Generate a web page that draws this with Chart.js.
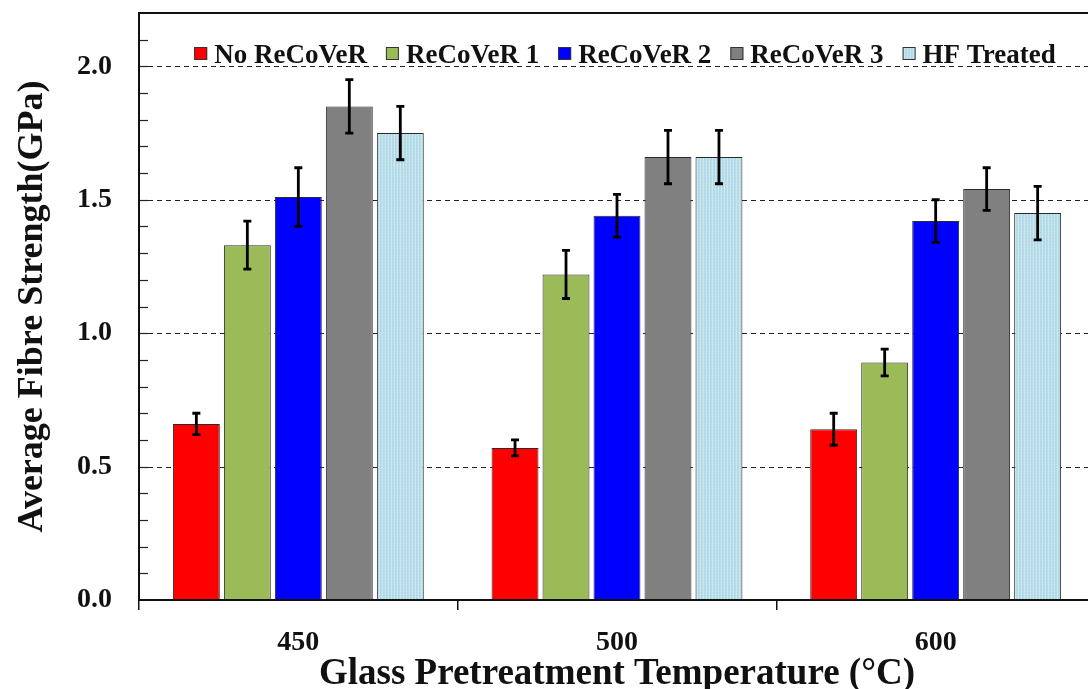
<!DOCTYPE html>
<html>
<head>
<meta charset="utf-8">
<script src="https://cdn.jsdelivr.net/npm/chart.js@4"></script>
<style>
  html, body { margin: 0; padding: 0; background: #fff; overflow: hidden; }
  #wrap { width: 1100px; height: 689px; }
</style>
</head>
<body>
<div id="wrap"><canvas id="chart" width="1100" height="689"></canvas></div>
<script>
// categories and series (GPa)
const temps = ['450', '500', '600'];
const seriesNames = ['No ReCoVeR', 'ReCoVeR 1', 'ReCoVeR 2', 'ReCoVeR 3', 'HF Treated'];
const noRecover = [0.66, 0.57, 0.64];
const recover1 = [1.33, 1.22, 0.89];
const recover2 = [1.51, 1.44, 1.42];
const recover3 = [1.85, 1.66, 1.54];
const hfTreated = [1.75, 1.66, 1.45];
// error bar half widths
const errNoRecover = [0.04, 0.03, 0.06];
const errRecover1 = [0.09, 0.09, 0.05];
const errRecover2 = [0.11, 0.08, 0.08];
const errRecover3 = [0.10, 0.10, 0.08];
const errHf = [0.10, 0.10, 0.10];
const yTicks = [0, 0.5, 1.0, 1.5, 2.0];

const FONT = '"Liberation Serif", "Times New Roman", serif';

// light blue fill with fine vertical stripes
function hfPattern() {
  const c = document.createElement('canvas');
  c.width = 3; c.height = 3;
  const g = c.getContext('2d');
  g.fillStyle = '#b5dce8';
  g.fillRect(0, 0, 3, 3);
  g.fillStyle = '#cbe7ef';
  g.fillRect(1, 0, 1, 3);
  g.fillStyle = '#a9d4e1';
  g.fillRect(2, 1, 1, 1);
  return g.createPattern(c, 'repeat');
}

const values = [noRecover, recover1, recover2, recover3, hfTreated];
const errors = [errNoRecover, errRecover1, errRecover2, errRecover3, errHf];
const fills = ['#ff0000', '#9bbb59', '#0000ff', '#808080', hfPattern()];

const datasets = seriesNames.map((name, i) => ({
  label: name,
  data: values[i],
  errs: errors[i],
  backgroundColor: fills[i],
  borderColor: '#2a2a2a',
  borderWidth: 1,
  borderSkipped: false,
  categoryPercentage: 0.8,
  barPercentage: 0.92,
}));

// dashed grid + inward minor ticks, drawn behind the bars
const gridPlugin = {
  id: 'gridLines',
  beforeDatasetsDraw(chart) {
    const { ctx, chartArea, scales: { y } } = chart;
    ctx.save();
    ctx.strokeStyle = '#222';
    ctx.lineWidth = 1;
    ctx.setLineDash([5, 4]);
    yTicks.forEach(v => {
      if (v === 0) return;
      const py = Math.round(y.getPixelForValue(v)) + 0.5;
      ctx.beginPath();
      ctx.moveTo(chartArea.left, py);
      ctx.lineTo(chartArea.right, py);
      ctx.stroke();
    });
    ctx.setLineDash([]);
    ctx.lineWidth = 1.2;
    for (let k = 1; k <= 21; k++) {
      const py = Math.round(y.getPixelForValue(k / 10)) + 0.5;
      ctx.beginPath();
      ctx.moveTo(chartArea.left, py);
      ctx.lineTo(chartArea.left + 9, py);
      ctx.stroke();
    }
    ctx.restore();
  }
};

// error bars, plot frame and the in-plot legend
const errorPlugin = {
  id: 'errorBars',
  afterDatasetsDraw(chart) {
    const { ctx, chartArea, scales: { y } } = chart;
    ctx.save();
    ctx.strokeStyle = '#000';
    chart.data.datasets.forEach((ds, i) => {
      const meta = chart.getDatasetMeta(i);
      meta.data.forEach((bar, j) => {
        const v = ds.data[j], e = ds.errs[j];
        const top = y.getPixelForValue(v + e);
        const bot = y.getPixelForValue(v - e);
        ctx.lineWidth = 2.8;
        ctx.beginPath();
        ctx.moveTo(bar.x, top); ctx.lineTo(bar.x, bot);
        ctx.moveTo(bar.x - 4, top); ctx.lineTo(bar.x + 4, top);
        ctx.moveTo(bar.x - 4, bot); ctx.lineTo(bar.x + 4, bot);
        ctx.stroke();
      });
    });
    ctx.lineWidth = 2;
    ctx.strokeStyle = '#111';
    ctx.strokeRect(chartArea.left, chartArea.top, chartArea.right - chartArea.left, chartArea.bottom - chartArea.top);

    // legend row
    ctx.font = 'bold 27px ' + FONT;
    ctx.textBaseline = 'alphabetic';
    const box = 13, gapText = 7, gapItem = 19;
    const widths = chart.data.datasets.map(ds => box + gapText + ctx.measureText(ds.label).width);
    const total = widths.reduce((a, b) => a + b, 0) + gapItem * (widths.length - 1);
    let lx = (chartArea.left + chartArea.right) / 2 + 8 - total / 2;
    const base = chartArea.top + 50;
    chart.data.datasets.forEach((ds, i) => {
      ctx.fillStyle = ds.backgroundColor;
      ctx.fillRect(lx, base - 16, box, box);
      ctx.lineWidth = 1;
      ctx.strokeStyle = '#333';
      ctx.strokeRect(lx + 0.5, base - 15.5, box - 1, box - 1);
      ctx.fillStyle = '#111';
      ctx.fillText(ds.label, lx + box + gapText, base);
      lx += widths[i] + gapItem;
    });
    ctx.restore();
  }
};

new Chart(document.getElementById('chart'), {
  type: 'bar',
  data: { labels: temps, datasets },
  options: {
    responsive: false,
    animation: false,
    layout: { padding: { top: 13, right: 5, left: 0, bottom: 0 } },
    plugins: {
      tooltip: { enabled: false },
      legend: { display: false }
    },
    scales: {
      x: {
        afterFit(scale) { scale.height = 89; scale.paddingLeft = 0; scale.paddingRight = 0; },
        grid: {
          offset: true,
          drawOnChartArea: false,
          drawTicks: true,
          tickLength: 10,
          color: '#111',
          lineWidth: 1.5,
        },
        border: { display: false },
        ticks: {
          color: '#111',
          padding: 16,
          font: { family: FONT, size: 28, weight: 'bold' },
        },
        title: {
          display: true,
          text: 'Glass Pretreatment Temperature (°C)',
          color: '#111',
          padding: { top: 0, bottom: -4 },
          font: { family: FONT, size: 37, weight: 'bold', lineHeight: 1 },
        }
      },
      y: {
        min: 0,
        max: 2.2,
        afterFit(scale) { scale.width = 139; scale.paddingTop = 0; scale.paddingBottom = 0; },
        afterBuildTicks(scale) { scale.ticks = yTicks.map(v => ({ value: v })); },
        grid: { display: false, drawTicks: false },
        border: { display: false },
        ticks: {
          color: '#111',
          padding: 27,
          font: { family: FONT, size: 28, weight: 'bold' },
          callback: v => Number(v).toFixed(1),
        },
        title: {
          display: true,
          text: 'Average Fibre Strength(GPa)',
          color: '#111',
          padding: { top: 11, bottom: 0 },
          font: { family: FONT, size: 36, weight: 'bold' },
        }
      }
    }
  },
  plugins: [gridPlugin, errorPlugin]
});
</script>
</body>
</html>
